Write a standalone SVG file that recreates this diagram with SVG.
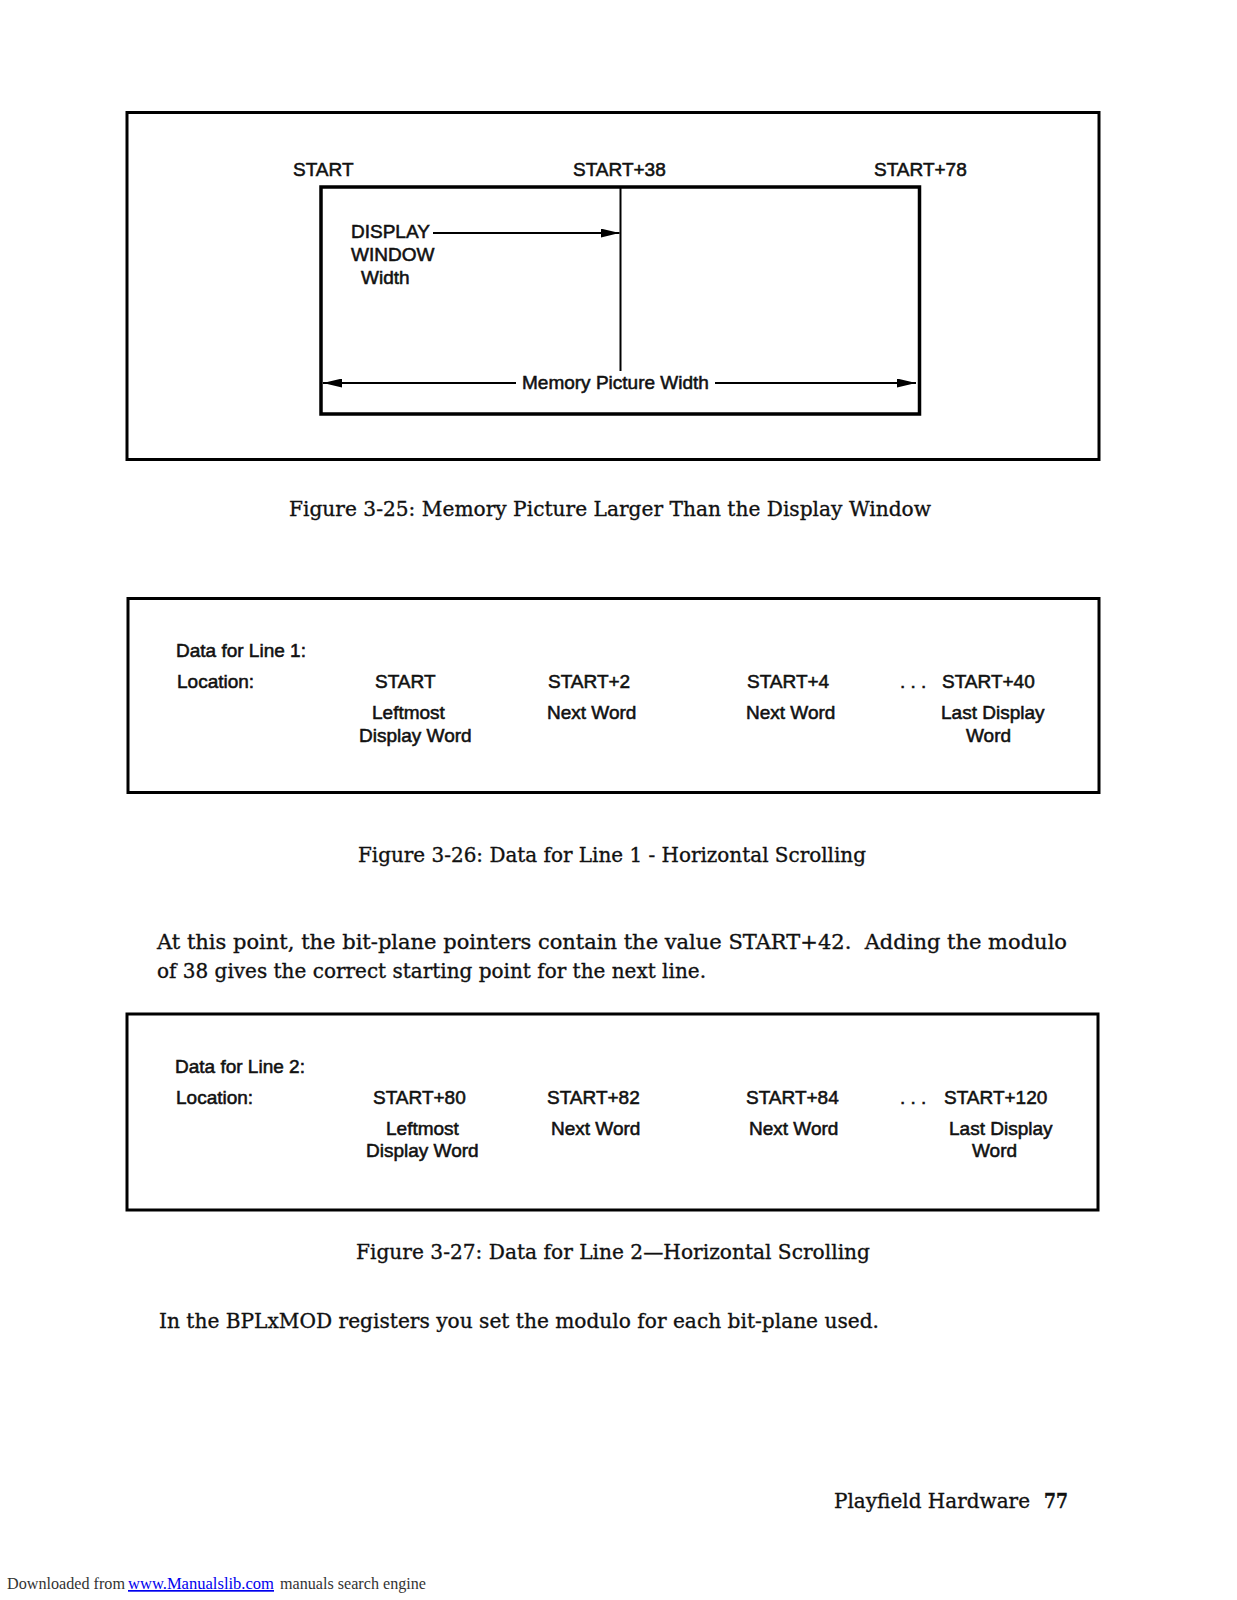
<svg xmlns="http://www.w3.org/2000/svg" width="1237" height="1600" viewBox="0 0 1237 1600">
<style>
.frame{fill:none;stroke:#000;stroke-width:3}
.inner{fill:none;stroke:#000;stroke-width:3.5}
.ln{stroke:#000;stroke-width:2;fill:none}
.sans{font-family:"Liberation Sans",Arial,sans-serif;font-size:19px;fill:#111;stroke:#111;stroke-width:0.55}
.serif{font-family:"DejaVu Serif","Liberation Serif",serif;font-size:21px;fill:#111;stroke:#111;stroke-width:0.35}
.foot{font-family:"Liberation Serif",serif;font-size:17px;fill:#333}
</style>
<defs>
<marker id="ah" viewBox="0 0 19 9" refX="19" refY="4.5" markerWidth="19" markerHeight="9" markerUnits="userSpaceOnUse" orient="auto-start-reverse">
<path d="M0,0 L19,4.5 L0,9 Z" fill="#000"/>
</marker>
</defs>
<rect width="1237" height="1600" fill="#fff"/>

<!-- Figure 3-25 -->
<g id="fig25-frame"><rect class="frame" x="127" y="112.5" width="972" height="347"/></g>
<g id="memory-picture"><rect class="inner" x="321" y="187" width="598.5" height="227"/></g>
<g id="display-boundary"><line class="ln" x1="620.5" y1="187" x2="620.5" y2="371"/></g>
<g id="fig25-labels">
<text class="sans" x="293" y="176">START</text>
<text class="sans" x="573" y="176">START+38</text>
<text class="sans" x="874" y="176">START+78</text>
<text class="sans" x="351" y="238">DISPLAY</text>
<text class="sans" x="351" y="261">WINDOW</text>
<text class="sans" x="361" y="284">Width</text>
<text class="sans" x="522" y="388.5">Memory Picture Width</text>
</g>
<g id="connectors">
<line class="ln" x1="433" y1="233" x2="619.5" y2="233" marker-end="url(#ah)"/>
<line class="ln" x1="516" y1="383" x2="323" y2="383" marker-end="url(#ah)"/>
<line class="ln" x1="715" y1="383" x2="916" y2="383" marker-end="url(#ah)"/>
</g>
<text class="serif" x="289" y="516" textLength="642" lengthAdjust="spacingAndGlyphs">Figure 3-25: Memory Picture Larger Than the Display Window</text>

<!-- Figure 3-26 -->
<g id="fig26">
<rect class="frame" x="128" y="598.5" width="971" height="194"/>
<text class="sans" x="176" y="657">Data for Line 1:</text>
<text class="sans" x="177" y="688">Location:</text>
<text class="sans" x="375" y="688">START</text>
<text class="sans" x="548" y="688">START+2</text>
<text class="sans" x="747" y="688">START+4</text>
<text class="sans" x="900" y="688">. . .</text>
<text class="sans" x="942" y="688">START+40</text>
<text class="sans" x="372" y="719">Leftmost</text>
<text class="sans" x="359" y="742">Display Word</text>
<text class="sans" x="547" y="719">Next Word</text>
<text class="sans" x="746" y="719">Next Word</text>
<text class="sans" x="941" y="719">Last Display</text>
<text class="sans" x="966" y="742">Word</text>
</g>
<text class="serif" x="358" y="862" textLength="508" lengthAdjust="spacingAndGlyphs">Figure 3-26: Data for Line 1 - Horizontal Scrolling</text>

<text class="serif" x="157" y="949" textLength="910" lengthAdjust="spacingAndGlyphs">At this point, the bit-plane pointers contain the value START+42.&#160; Adding the modulo</text>
<text class="serif" x="157" y="978" textLength="549" lengthAdjust="spacingAndGlyphs">of 38 gives the correct starting point for the next line.</text>

<!-- Figure 3-27 -->
<g id="fig27">
<rect class="frame" x="127" y="1014" width="971" height="196"/>
<text class="sans" x="175" y="1073">Data for Line 2:</text>
<text class="sans" x="176" y="1104">Location:</text>
<text class="sans" x="373" y="1104">START+80</text>
<text class="sans" x="547" y="1104">START+82</text>
<text class="sans" x="746" y="1104">START+84</text>
<text class="sans" x="900" y="1104">. . .</text>
<text class="sans" x="944" y="1104">START+120</text>
<text class="sans" x="386" y="1135">Leftmost</text>
<text class="sans" x="366" y="1157">Display Word</text>
<text class="sans" x="551" y="1135">Next Word</text>
<text class="sans" x="749" y="1135">Next Word</text>
<text class="sans" x="949" y="1135">Last Display</text>
<text class="sans" x="972" y="1157">Word</text>
</g>
<text class="serif" x="356" y="1259" textLength="514" lengthAdjust="spacingAndGlyphs">Figure 3-27: Data for Line 2—Horizontal Scrolling</text>

<text class="serif" x="159" y="1328" textLength="720" lengthAdjust="spacingAndGlyphs">In the BPLxMOD registers you set the modulo for each bit-plane used.</text>

<text class="serif" x="834" y="1508" textLength="196" lengthAdjust="spacingAndGlyphs">Playfield Hardware</text>
<text class="serif" x="1044" y="1508" font-weight="bold" textLength="24" lengthAdjust="spacingAndGlyphs">77</text>

<text class="foot" y="1589"><tspan x="7" textLength="118" lengthAdjust="spacingAndGlyphs">Downloaded from</tspan><tspan x="128" fill="#00e" text-decoration="underline" textLength="146" lengthAdjust="spacingAndGlyphs">www.Manualslib.com</tspan><tspan x="280" textLength="146" lengthAdjust="spacingAndGlyphs">manuals search engine</tspan></text>
</svg>
